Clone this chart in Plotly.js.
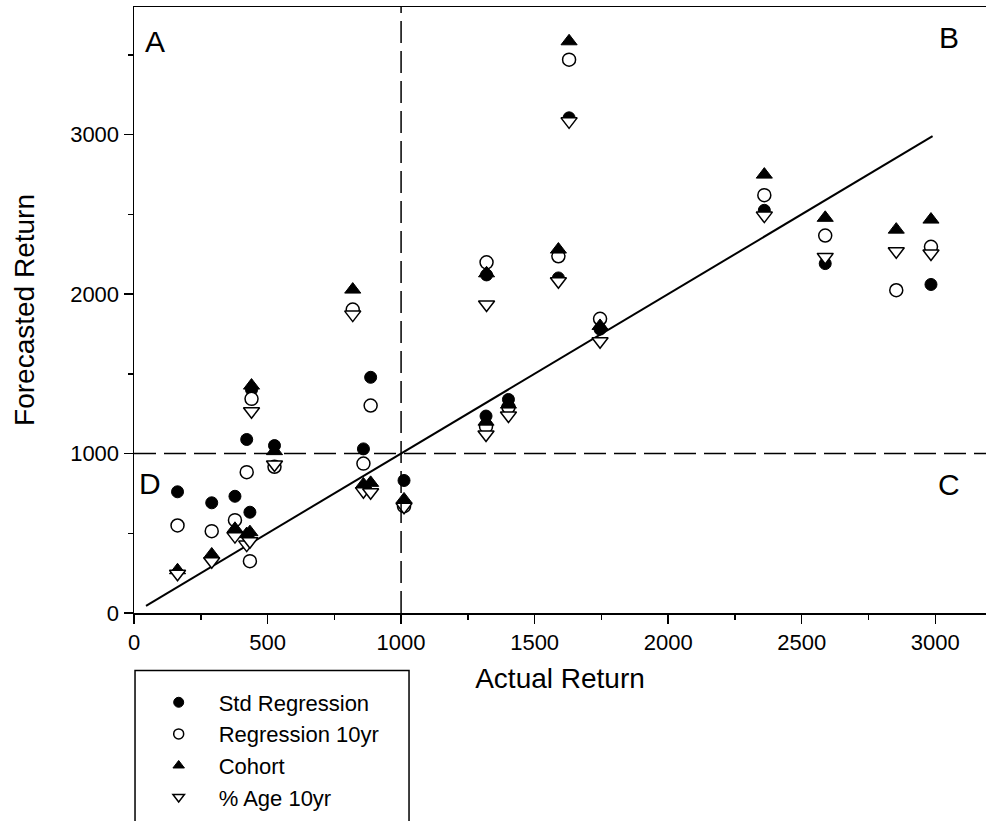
<!DOCTYPE html>
<html><head><meta charset="utf-8">
<script src="https://cdn.plot.ly/plotly-3.0.1.min.js"></script>
<style>html,body{margin:0;padding:0;background:#fff}#chart{width:986px;height:821px}</style>
</head><body><div id="chart"></div>
<script>
// Actual return (x) shared by the four forecast series
const actual         = [163, 291, 378, 422, 434, 440, 526, 819, 859, 886, 1011, 1318, 1320, 1402, 1589, 1629, 1745, 2360, 2588, 2854, 2984];
const stdRegression  = [760, 691, 732, 1088, 632, 1400, 1050, 1900, 1029, 1478, 831, 1235, 2120, 1339, 2101, 3105, 1780, 2525, 2191, 2024, 2060];
const regression10yr = [549, 513, 582, 883, 325, 1343, 917, 1903, 937, 1301, 670, 1170, 2199, 1290, 2237, 3470, 1845, 2620, 2367, 2024, 2296];
const cohort         = [268, 367, 528, 495, 507, 1426, 1015, 2028, 806, 816, 712, 1200, 2130, 1307, 2279, 3585, 1800, 2749, 2478, 2404, 2467];
const age10yr        = [246, 325, 482, 429, 450, 1265, 931, 1871, 764, 757, 666, 1119, 1934, 1238, 2080, 3083, 1704, 2492, 2233, 2268, 2254];

const seriesNames = ['Std Regression', 'Regression 10yr', 'Cohort', '% Age 10yr'];
const oneToOneLine = [45, 2990];
const thresholdActual = 1000;
const thresholdForecast = 1000;
const quadrantLabels = ['A', 'B', 'C', 'D'];
const quadrantX = [80, 3050, 3050, 60];
const quadrantY = [3585, 3610, 805, 815];
const xTickVals = [0, 500, 1000, 1500, 2000, 2500, 3000];
const yTickVals = [0, 1000, 2000, 3000];

const FONT = 'Liberation Sans, Arial, sans-serif';
const seriesY = [stdRegression, regression10yr, cohort, age10yr];
const styles = [
  {symbol: 'circle', color: '#000', line: {color: '#000', width: 1}, size: 12},
  {symbol: 'circle', color: '#fff', line: {color: '#000', width: 1.5}, size: 13},
  {symbol: 'triangle-up', color: '#000', line: {color: '#000', width: 1}, size: 14},
  {symbol: 'triangle-down', color: '#fff', line: {color: '#000', width: 1.5}, size: 14}
];

const traces = [];
traces.push({
  x: oneToOneLine, y: oneToOneLine, mode: 'lines', type: 'scatter',
  line: {color: '#000', width: 2}, showlegend: false, hoverinfo: 'skip'
});
seriesY.forEach((ys, i) => {
  traces.push({
    x: actual, y: ys, mode: 'markers', type: 'scatter', name: seriesNames[i],
    marker: styles[i], showlegend: false
  });
});
// legend entries (smaller symbols, as in the original legend)
seriesY.forEach((ys, i) => {
  traces.push({
    x: [null], y: [null], mode: 'markers', type: 'scatter', name: seriesNames[i],
    marker: Object.assign({}, styles[i], {size: 10}), showlegend: true
  });
});

const annotations = quadrantLabels.map((t, i) => ({
  x: quadrantX[i], y: quadrantY[i], xref: 'x', yref: 'y', text: t, showarrow: false,
  font: {family: FONT, size: 30, color: '#000'}
}));

const layout = {
  width: 986, height: 821,
  margin: {l: 134, r: 0, t: 7, b: 208},
  paper_bgcolor: '#fff', plot_bgcolor: '#fff',
  font: {family: FONT, color: '#000'},
  xaxis: {
    range: [0, 3190], showgrid: false, zeroline: false,
    showline: true, linecolor: '#000', linewidth: 1.5, mirror: true,
    ticks: 'outside', ticklen: 9, tickwidth: 1.5, tickcolor: '#000',
    tickvals: xTickVals, tickfont: {family: FONT, size: 22, color: '#000'},
    minor: {dtick: 250, ticks: 'outside', ticklen: 5, tickwidth: 1.5, tickcolor: '#000', showgrid: false},
    title: {text: 'Actual Return', font: {family: FONT, size: 28, color: '#000'}, standoff: 14}
  },
  yaxis: {
    range: [0, 3800], showgrid: false, zeroline: false,
    showline: true, linecolor: '#000', linewidth: 1.5,
    ticks: 'outside', ticklen: 9, tickwidth: 1.5, tickcolor: '#000',
    tickvals: yTickVals, tickfont: {family: FONT, size: 22, color: '#000'},
    minor: {dtick: 500, ticks: 'outside', ticklen: 5, tickwidth: 1.5, tickcolor: '#000', showgrid: false},
    title: {text: 'Forecasted Return', font: {family: FONT, size: 28, color: '#000'}, standoff: 27}
  },
  shapes: [
    {type: 'line', xref: 'x', yref: 'paper', x0: thresholdActual, x1: thresholdActual, y0: 0, y1: 1,
     line: {color: '#000', width: 1.5, dash: '22px,8px'}},
    {type: 'line', xref: 'paper', yref: 'y', x0: 0, x1: 1, y0: thresholdForecast, y1: thresholdForecast,
     line: {color: '#000', width: 1.5, dash: '22px,8px'}},
    {type: 'rect', xref: 'paper', yref: 'paper', x0: 0.0012, x1: 0.3228, y0: -0.0948, y1: -0.37,
     line: {color: '#000', width: 1.5}, fillcolor: 'rgba(0,0,0,0)'}
  ],
  annotations: annotations,
  legend: {
    x: 0.0055, y: -0.113, xanchor: 'left', yanchor: 'top',
    bgcolor: 'rgba(0,0,0,0)', borderwidth: 0,
    font: {family: FONT, size: 22, color: '#000'},
    itemwidth: 70, tracegroupgap: 0
  },
  showlegend: true
};

Plotly.newPlot('chart', traces, layout, {displayModeBar: false, staticPlot: true});
</script>
</body></html>
